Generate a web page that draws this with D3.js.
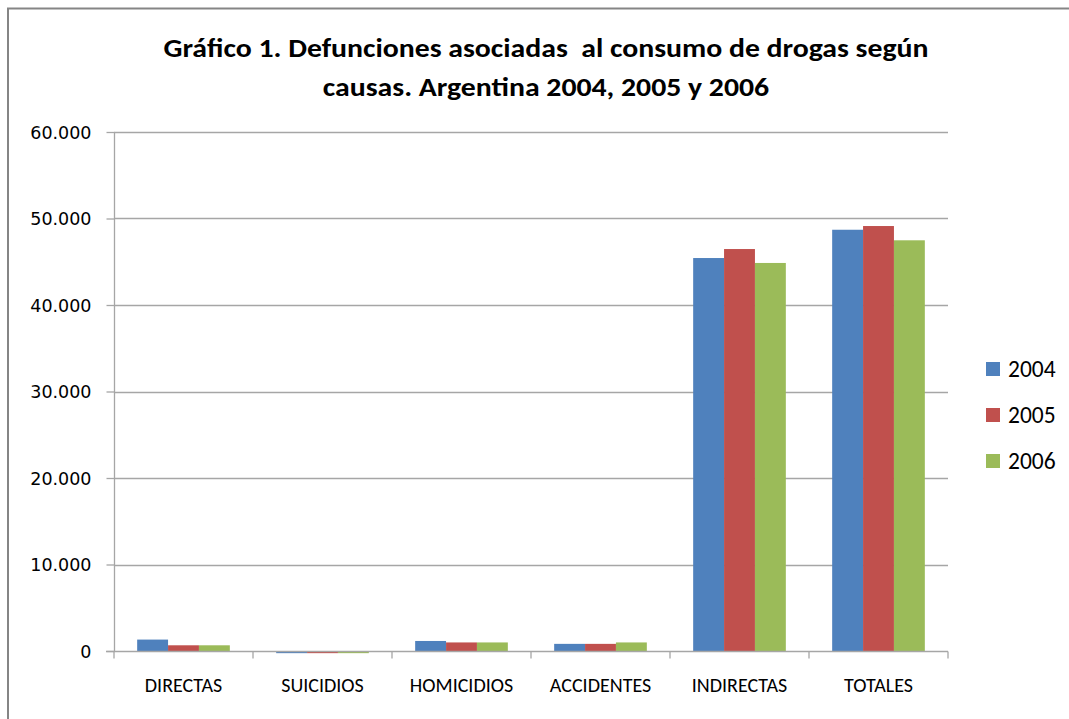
<!DOCTYPE html>
<html><head><meta charset="utf-8">
<script src="https://cdn.jsdelivr.net/npm/d3@7"></script>
<style>
html,body{margin:0;padding:0;background:#fff;}
svg{display:block;}
</style></head>
<body>
<svg id="chart" width="1069" height="719"></svg>
<script>
const categories = ["DIRECTAS", "SUICIDIOS", "HOMICIDIOS", "ACCIDENTES", "INDIRECTAS", "TOTALES"];
const seriesNames = ["2004", "2005", "2006"];
const values2004 = [1320, -250, 1160, 825, 45430, 48700];
const values2005 = [660, -250, 990, 825, 46470, 49130];
const values2006 = [660, -250, 990, 990, 44860, 47480];
const seriesColors = ["#4F81BD", "#C0504D", "#9BBB59"];
const yTicks = [0, 10000, 20000, 30000, 40000, 50000, 60000];
const titleLines = ["Gráfico 1. Defunciones asociadas  al consumo de drogas según", "causas. Argentina 2004, 2005 y 2006"];

(function () {
const seriesValues = [values2004, values2005, values2006];
const svg = d3.select("#chart");
const fontMain = "Carlito, Calibri, 'Liberation Sans Narrow', 'Open Sans', sans-serif";

// frame
svg.append("path").attr("d", "M8,720 L8,8.5 L1070,8.5").attr("fill", "none").attr("stroke", "#858585").attr("stroke-width", 2);

const pL = 114, pR = 948, pT = 132, pB = 651;
const x = d3.scaleBand().domain(categories).range([pL, pR]).paddingInner(0).paddingOuter(0);
const xs = d3.scaleBand().domain(seriesNames).range([0, x.bandwidth()]).paddingInner(0).paddingOuter(0.75);
const y = d3.scaleLinear().domain([0, 60000]).range([pB, pT]);
const loc = d3.formatLocale({decimal: ",", thousands: ".", grouping: [3], currency: ["$", ""]});
const fmt = loc.format(",");

// gridlines
svg.append("g").selectAll("line").data(yTicks.filter(d => d !== 0)).join("line")
  .attr("x1", pL).attr("x2", pR).attr("y1", d => Math.round(y(d)) + 0.5).attr("y2", d => Math.round(y(d)) + 0.5)
  .attr("stroke", "#A6A6A6").attr("stroke-width", 1.3);

// y axis
const yAxis = d3.axisLeft(y).tickValues(yTicks).tickFormat(fmt).tickSize(8).tickPadding(15);
const gy = svg.append("g").attr("transform", `translate(${pL + 0.5},0)`).call(yAxis);
gy.select(".domain").attr("stroke", "#A6A6A6").attr("stroke-width", 1.3).attr("d", `M0,${pT}V${pB}`);
gy.selectAll(".tick line").attr("stroke", "#A6A6A6").attr("stroke-width", 1.3);
gy.selectAll(".tick text").attr("fill", "#000").style("font-family", "'DejaVu Sans', Verdana, sans-serif")
  .style("font-size", "17.5px").attr("dy", "0.36em");

// bars
const groups = svg.append("g").selectAll("g").data(seriesNames).join("g").attr("fill", (d, i) => seriesColors[i]);
groups.selectAll("rect").data((s, i) => categories.map((c, j) => ({c, s, v: seriesValues[i][j]}))).join("rect")
  .attr("x", d => x(d.c) + xs(d.s))
  .attr("width", xs.bandwidth())
  .attr("y", d => y(Math.max(0, d.v)))
  .attr("height", d => Math.abs(y(d.v) - y(0)));

// x axis
const xAxis = d3.axisBottom(x).tickSize(0).tickPadding(0);
const gx = svg.append("g").attr("transform", `translate(0,${Math.round(y(0)) + 0.5})`).call(xAxis);
gx.select(".domain").attr("stroke", "#A6A6A6").attr("stroke-width", 1.3).attr("d", `M${pL - 8},0H${pR}`);
gx.selectAll(".tick text").attr("fill", "#000").attr("y", 40).attr("dy", 0)
  .style("font-family", fontMain).style("font-size", "20px");
gx.append("g").selectAll("line").data(categories.map(c => x(c)).concat([pR])).join("line")
  .attr("x1", d => d).attr("x2", d => d).attr("y1", 0).attr("y2", 7)
  .attr("stroke", "#A6A6A6").attr("stroke-width", 1.3);

// title
const tt = svg.append("g").selectAll("text").data(titleLines).join("text")
  .attr("x", 546).attr("y", (d, i) => 57 + i * 39)
  .attr("text-anchor", "middle").attr("font-weight", "bold")
  .style("font-family", fontMain).style("font-size", "25.5px").attr("fill", "#000")
  .style("white-space", "pre")
  .text(d => d);
const nat = tt.nodes().map(n => n.getComputedTextLength());
const k = 765 / nat[0];
tt.attr("textLength", (d, i) => nat[i] * k).attr("lengthAdjust", "spacingAndGlyphs");

// legend
const lg = svg.append("g").selectAll("g").data(seriesNames).join("g")
  .attr("transform", (d, i) => `translate(986,${362 + i * 46})`);
lg.append("rect").attr("width", 14).attr("height", 14).attr("fill", (d, i) => seriesColors[i]);
lg.append("text").attr("x", 22).attr("y", 14.5).text(d => d)
  .style("font-family", fontMain).style("font-size", "23.5px").attr("fill", "#000");
})();
</script>
</body></html>
